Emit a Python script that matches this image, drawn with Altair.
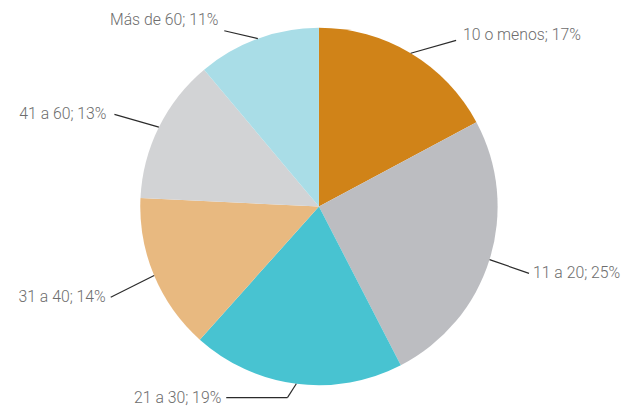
import math
import altair as alt
import pandas as pd

categories = ["10 o menos", "11 a 20", "21 a 30", "31 a 40", "41 a 60", "Más de 60"]
values = [17, 25, 19, 14, 13, 11]
colors = ["#D08318", "#BCBDC1", "#48C3D1", "#E8B980", "#D2D3D5", "#A9DDE7"]

# label layout, not data: leader offset (dx, dy) from the slice edge,
# horizontal elbow length, gap before text, vertical text nudge
leader = {
    "10 o menos": (46, -13, 0, 7, -5),
    "11 a 20": (40, 14, 0, 4, 0),
    "21 a 30": (-9, 14, -62, 5, 0),
    "31 a 40": (-44, 22, 0, 5, 0),
    "41 a 60": (-45, -13, 0, 8, 0),
    "Más de 60": (-34, -8, 0, 6, -11),
}

W, H = 620, 390
R = 181
cx, cy = 315, 198.5

df = pd.DataFrame({"cat": categories, "value": values, "idx": range(len(categories))})
total = sum(values)

segs, texts = [], []
cum = 0
for c, v in zip(categories, values):
    mid = (cum + v / 2) / total * 2 * math.pi
    cum += v
    sx = cx + R * math.sin(mid)
    sy = cy - R * math.cos(mid)
    dx, dy, h, gap, tdy = leader[c]
    kx, ky = sx + dx, sy + dy
    segs.append({"x": sx, "y": sy, "x2": kx, "y2": ky})
    ex = kx + h
    if h != 0:
        segs.append({"x": kx, "y": ky, "x2": ex, "y2": ky})
    side = "right" if (ex - cx) < 0 else "left"
    tx = ex - gap if side == "right" else ex + gap
    texts.append({"x": tx, "y": ky + tdy, "label": f"{c}; {v}%", "side": side})

segdf = pd.DataFrame(segs)
textdf = pd.DataFrame(texts)

pie = alt.Chart(df).mark_arc(outerRadius=R).encode(
    theta=alt.Theta("value:Q", stack=True),
    color=alt.Color("cat:N", scale=alt.Scale(domain=categories, range=colors), legend=None),
    order=alt.Order("idx:Q"),
    x=alt.value(cx),
    y=alt.value(cy),
)

lines = alt.Chart(segdf).mark_rule(color="#2b2b2b", strokeWidth=1.2).encode(
    x=alt.X("x:Q", scale=None),
    y=alt.Y("y:Q", scale=None),
    x2="x2:Q",
    y2="y2:Q",
)

def text_layer(side):
    return alt.Chart(textdf).transform_filter(alt.datum.side == side).mark_text(
        align=side, baseline="middle", font="Roboto", fontSize=16, color="#6d6d6d", fontWeight=300
    ).encode(
        x=alt.X("x:Q", scale=None),
        y=alt.Y("y:Q", scale=None),
        text="label:N",
    )

chart = alt.layer(pie, lines, text_layer("left"), text_layer("right")).properties(
    width=W, height=H, padding=0
).configure_view(stroke=None)

chart.save("out.html", embed_options={"renderer": "svg", "actions": False})
